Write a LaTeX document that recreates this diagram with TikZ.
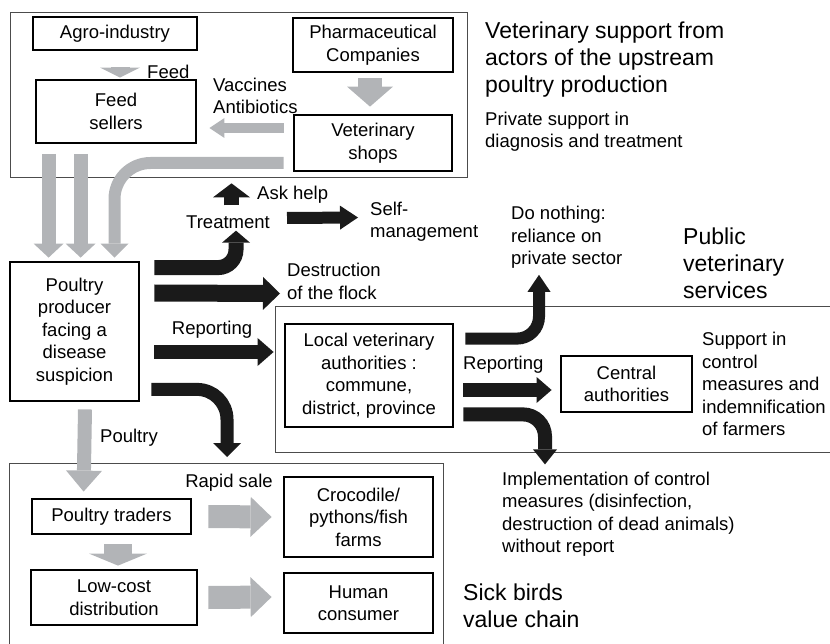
\documentclass[tikz,border=0pt]{standalone}
\usepackage{fontspec}
\setmainfont{Liberation Sans}
\usetikzlibrary{arrows.meta}
\definecolor{arrowgray}{RGB}{178,180,183}
\definecolor{arrowblack}{RGB}{26,26,26}

\begin{document}
\begin{tikzpicture}[x=1pt, y=-1pt,
    every node/.style = {font=\fontsize{18.5}{22.5}\selectfont, inner sep=0pt, align=center},
    actor/.style = {draw, line width=2.8pt},
    lbl/.style = {anchor=west, align=left},
    heading/.style = {lbl, font=\fontsize{23}{27}\selectfont},
    panel/.style = {draw=black!70, line width=1pt},
    garrow/.style n args = {3}{draw=arrowgray, line width=#1pt, -{Triangle[width=#2pt, length=#3pt, line width=0pt]}},
    barrow/.style n args = {3}{draw=arrowblack, line width=#1pt, -{Triangle[width=#2pt, length=#3pt, line width=0pt]}}]
\useasboundingbox (0,0) rectangle (830,644);

% the three areas
\draw[panel] (10,13) rectangle (467,178);
\draw[panel] (830,307) -| (275,452) -- (830,452);
\draw[panel] (9,650) |- (443,463) -- (443,650);

% actors
\node[actor, minimum width=164pt, minimum height=33pt] (agro) at (115,33.5) {Agro-industry};
\node[actor, minimum width=160pt, minimum height=54pt] (pharma) at (373,45) {Pharmaceutical\\Companies};
\node[actor, minimum width=160pt, minimum height=63pt] (feed) at (116,111.5) {Feed\\sellers};
\node[actor, minimum width=158pt, minimum height=56pt] (vetshop) at (373,143) {Veterinary\\shops};
\node[actor, minimum width=129pt, minimum height=139pt] (prod) at (74.5,331.5) {Poultry\\producer\\facing a\\disease\\suspicion};
\node[actor, minimum width=168pt, minimum height=103pt] (localvet) at (369,375.5) {Local veterinary\\authorities :\\commune,\\district, province};
\node[actor, minimum width=131pt, minimum height=56pt] (central) at (626.5,384) {Central\\authorities};
\node[actor, minimum width=159pt, minimum height=35pt] (traders) at (111.5,516.5) {Poultry traders};
\node[actor, minimum width=149pt, minimum height=80pt] (croc) at (358.5,517) {Crocodile/\\pythons/fish\\farms};
\node[actor, minimum width=166pt, minimum height=55pt] (lowcost) at (114,597.5) {Low-cost\\distribution};
\node[actor, minimum width=149pt, minimum height=60pt] (human) at (358.5,603) {Human\\consumer};

% labels
\node[heading] (upstream) at (485,60) {Veterinary support from\\actors of the upstream\\poultry production};
\node[lbl] (private) at (485,131.5) {Private support in\\diagnosis and treatment};
\node[heading] (public) at (683,263.5) {Public\\veterinary\\services};
\node[heading] (sick) at (463,606) {Sick birds\\value chain};
\node[lbl] (feedlbl) at (147,72) {Feed};
\node[lbl] (vacc) at (213,96) {Vaccines\\Antibiotics};
\node[lbl] (askhelp) at (257,195) {Ask help};
\node (treatment) at (228,222) {Treatment};
\node[lbl] (selfm) at (370,221.5) {Self-\\management};
\node[lbl] (destr) at (287,281.5) {Destruction\\of the flock};
\node[lbl] (donothing) at (511,237.5) {Do nothing:\\reliance on\\private sector};
\node (report) at (212,330) {Reporting};
\node[lbl] (reportc) at (463,365) {Reporting};
\node[lbl] (support) at (702,384) {Support in\\control\\measures and\\indemnification\\of farmers};
\node[lbl] (impl) at (502,514) {Implementation of control\\measures (disinfection,\\destruction of dead animals)\\without report};
\node[lbl] (poultrylbl) at (100,438) {Poultry};
\node (rapid) at (229,483) {Rapid sale};
\coordinate (sickin) at (227,457);

% supplies (grey)
\draw[garrow={19}{40}{10}] ([xshift=5pt,yshift=-16pt]agro.south) -- ([xshift=4pt,yshift=1pt]feed.north);
\draw[garrow={24}{46}{20}] ([xshift=-3pt,yshift=-5pt]pharma.south) -- ([xshift=-3pt,yshift=7pt]vetshop.north);
\draw[garrow={10}{20}{15}] ([xshift=-9pt,yshift=15pt]vetshop.west) -- ([xshift=12pt,yshift=-16.5pt]feed.east);
\draw[garrow={14}{30}{14}] ([xshift=14pt,yshift=-9.5pt]feed.south west) -- ([xshift=40pt,yshift=3pt]prod.north west);
\draw[garrow={14}{30}{14}] ([xshift=46pt,yshift=-9.5pt]feed.south west) -- ([xshift=72pt,yshift=3pt]prod.north west);
\draw[garrow={12}{28}{14}, rounded corners=36pt] ([xshift=-9pt,yshift=-20pt]vetshop.west) -| ([xshift=40pt,yshift=3pt]prod.north);
\draw[garrow={14}{36}{21}] ([xshift=10.5pt,yshift=-7pt]prod.south) -- ([xshift=53pt,yshift=6pt]traders.north west);
\draw[garrow={23}{40}{21}] ([xshift=16pt]traders.east) -- ([xshift=-11pt]croc.west);
\draw[garrow={28}{58}{12}] ([xshift=6.5pt,yshift=-9pt]traders.south) -- ([xshift=4pt,yshift=3pt]lowcost.north);
\draw[garrow={23}{40}{21}] ([xshift=10pt]lowcost.east) -- ([xshift=-11pt,yshift=6pt]human.west);

% decisions (black)
\draw[barrow={15}{37}{14}] ([xshift=3.5pt,yshift=10pt]treatment.north) -- ([xshift=3.5pt,yshift=32pt]treatment.north);
\draw[barrow={15}{28}{12}, rounded corners=18pt] ([xshift=14pt,yshift=-7pt]prod.north east) -| ([xshift=8pt,yshift=-2pt]treatment.south);
\draw[barrow={12}{24}{18}] ([xshift=17pt,yshift=4pt]treatment.east) -- ([xshift=-12pt,yshift=4pt]selfm.west);
\draw[barrow={17}{33}{17}] ([xshift=14pt,yshift=38.5pt]prod.east) -- ([xshift=-7pt,yshift=-12pt]destr.west);
\draw[barrow={14}{28}{16}] ([xshift=14pt,yshift=-20.5pt]prod.east) -- ([xshift=-10pt,yshift=23.5pt]localvet.west);
\draw[barrow={13}{28}{14}, rounded corners=30pt] ([xshift=11pt,yshift=13pt]prod.south east) -| (sickin);
\draw[barrow={12}{23}{17}, rounded corners=22pt] ([xshift=11pt,yshift=-16pt]localvet.north east) -| ([xshift=28pt,yshift=-6pt]donothing.south west);
\draw[barrow={14}{26}{15}] ([xshift=9pt,yshift=-14.5pt]localvet.east) -- ([xshift=-8pt,yshift=-6pt]central.west);
\draw[barrow={14}{24}{15}, rounded corners=22pt] ([xshift=9pt,yshift=14pt]localvet.south east) -| ([xshift=43pt,yshift=7pt]impl.north west);
\end{tikzpicture}
\end{document}
